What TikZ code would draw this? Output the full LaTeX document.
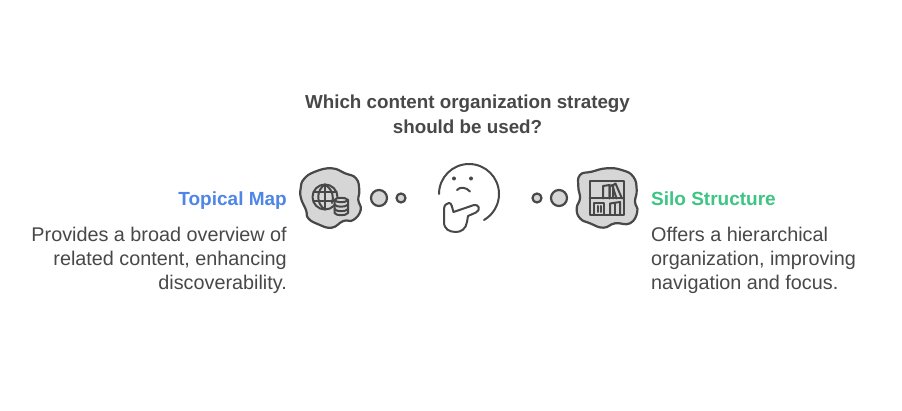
\documentclass[tikz,border=0pt]{standalone}
\usepackage{fontspec}
\setmainfont{Liberation Sans}
\definecolor{ink}{HTML}{484848}
\definecolor{fillg}{HTML}{D6D6D6}
\definecolor{topblue}{HTML}{4E86E8}
\definecolor{silogreen}{HTML}{3CC583}
\tikzset{
  ln/.style={draw=ink,line width=2pt,line cap=round,line join=round},
  bubble/.style={ln,fill=fillg,line width=2.2pt},
  heading/.style={font=\fontsize{18.8}{22}\selectfont\bfseries,text=ink,align=center,inner sep=0pt},
  optitle/.style={font=\fontsize{19}{22}\selectfont\bfseries,inner sep=0pt},
  body/.style={font=\fontsize{19.8}{22}\selectfont,text=ink,inner sep=0pt}
}
\begin{document}
\begin{tikzpicture}[x=1pt,y=-1pt]
\useasboundingbox (0,0) rectangle (902,411);
\fill[white] (0,0) rectangle (902,411);
% headings
\node[heading,anchor=base] (q1) at (467.5,109) {Which content organization strategy};
\node[heading,anchor=base] (q2) at (467.5,133.5) {should be used?};
\node[optitle,anchor=base east,text=topblue] (tl) at (287,205.5) {Topical Map};
\node[body,anchor=base east] (l1) at (287,241.5) {Provides a broad overview of};
\node[body,anchor=base east] (l2) at (287,265.5) {related content, enhancing};
\node[body,anchor=base east] (l3) at (287,289.5) {discoverability.};
\node[optitle,anchor=base west,text=silogreen] (tr) at (651,205.5) {Silo Structure};
\node[body,anchor=base west] (r1) at (651,241.5) {Offers a hierarchical};
\node[body,anchor=base west] (r2) at (651,265.5) {organization, improving};
\node[body,anchor=base west] (r3) at (651,289.5) {navigation and focus.};
% left cloud
\draw[bubble] plot[smooth cycle,tension=0.8] coordinates {
 (300.7,188.3)(304,179)(315,171.7)(331.7,168.3)(345,173.3)(356,178.3)(359.3,190)(358.3,200)(360.7,210)(353.3,220)(343.3,221)(331.7,227.7)(318.3,224.3)(308.3,218.3)(306,210)(301,198.3)};
% globe
\draw[ln] (325,197) circle[radius=12.5];
\draw[ln] (325,184.5) .. controls (316,190) and (316,204) .. (325,209.5);
\draw[ln] (325,184.5) .. controls (333,190) and (334,197) .. (332,203);
\draw[ln] (325,184.5) -- (325,209.5);
\draw[ln] (313.5,192.5) -- (336.5,192.5);
\draw[ln] (313.5,201.5) -- (334,201.5);
\draw[ln,fill=fillg] (334.5,200) .. controls (336,197) and (346,197) .. (348,200) -- (348,213) .. controls (346,216) and (336,216) .. (334.5,213) -- cycle;
\draw[ln] (334.5,200) .. controls (336,203) and (346,203) .. (348,200);
\draw[ln] (334.5,204.5) .. controls (336,207.5) and (346,207.5) .. (348,204.5);
\draw[ln] (334.5,209) .. controls (336,212) and (346,212) .. (348,209);
% dots
\node[circle,bubble,minimum size=16pt,inner sep=0pt] (dl1) at (379,198) {};
\node[circle,bubble,minimum size=9pt,inner sep=0pt] (dl2) at (401,198) {};
\node[circle,bubble,minimum size=9pt,inner sep=0pt] (dr1) at (537,198) {};
\node[circle,bubble,minimum size=16pt,inner sep=0pt] (dr2) at (559,198) {};
% thinker
\draw[ln] (439,194) arc[start angle=180,end angle=-60,x radius=30,y radius=-30];
\fill[ink] (454,178.5) circle[radius=2];
\fill[ink] (471,178.5) circle[radius=2];
\draw[ln] (457,190) .. controls (460,186.5) and (466,187) .. (470,191.5);
\draw[ln] (444,222) -- (444,209) .. controls (444,205) and (447,203) .. (449,203) .. controls (452,203) and (452,208) .. (453.5,212) -- (474,205) .. controls (479,204) and (481,210) .. (476,212.5) -- (468,216) -- (467,222) .. controls (466,229) and (461,232) .. (456,232) .. controls (449,232) and (444,229) .. (444,222);
% right cloud
\draw[bubble] plot[smooth cycle,tension=0.8] coordinates {
 (580,175)(591.7,171.7)(606.7,168.3)(621.7,170)(633.3,176.7)(636.7,190)(635,201.7)(637.3,211.7)(630,223.3)(615,223.3)(603.3,227.7)(590,223.3)(580,218.3)(576.7,208.3)(580,198.3)(578.3,186.7)};
% bookshelf
\draw[ln] (589.5,181.5) rectangle (624,215);
\draw[ln] (589.5,198.5) -- (624,198.5);
\draw[ln] (603,198.5) -- (603,186) -- (609.5,185) -- (609.5,198.5);
\draw[ln] (609.5,198.5) -- (609.5,186) -- (613,185) -- (613,198.5);
\draw[ln] (612,186) -- (615.5,183.5) -- (622,198.5);
\draw[ln] (616.5,198.5) -- (612.5,186);
\draw[ln] (594,215) -- (594,203.5) -- (604,203.5) -- (604,215);
\draw[ln] (597.5,206) -- (597.5,212);
\draw[ln] (601,206) -- (601,212);
\draw[ln] (610,215) -- (610,203.5) -- (620,202) -- (620,215);
\draw[ln] (615,203) -- (615,215);
\end{tikzpicture}
\end{document}
